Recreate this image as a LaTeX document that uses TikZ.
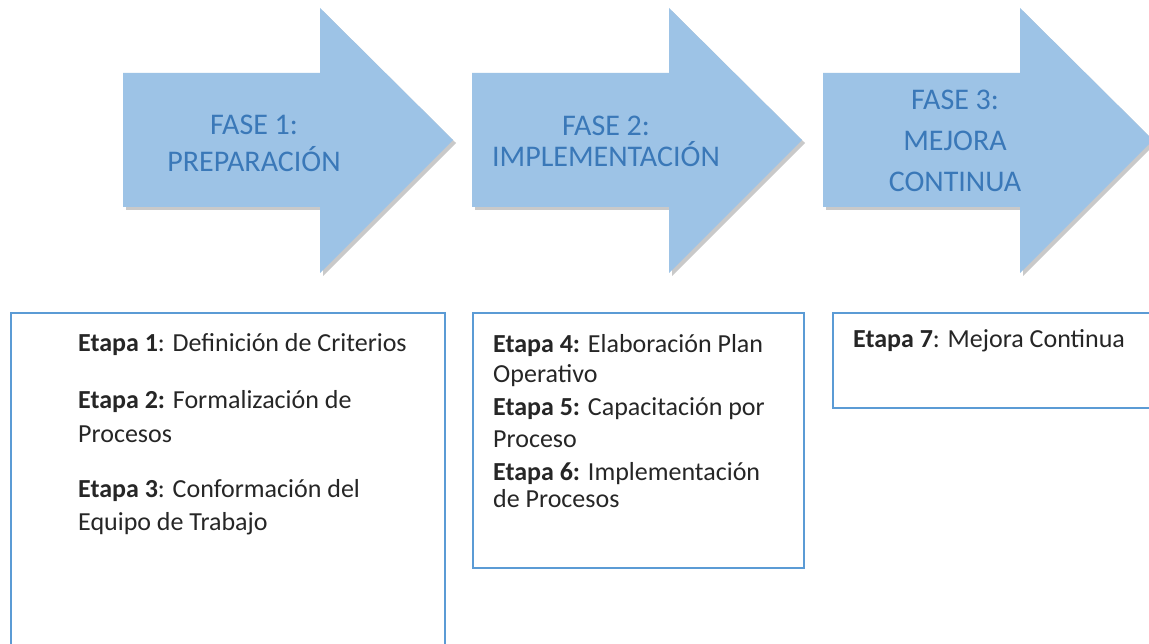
\documentclass[tikz,border=0pt]{standalone}
\usepackage{fontspec}
\setmainfont{Carlito}
\usetikzlibrary{shadows}
\definecolor{flechaazul}{HTML}{9DC3E6}
\definecolor{fasetexto}{HTML}{3A78B8}
\definecolor{bordecaja}{HTML}{5B9BD5}
\definecolor{etapatexto}{HTML}{262626}
\tikzset{
 flecha/.style={fill=flechaazul, draw=none, drop shadow={opacity=.35, shadow xshift=3pt, shadow yshift=-3pt, fill=black!60}},
 fasetxt/.style={text=fasetexto, font=\fontsize{30}{38}\selectfont, align=center, anchor=base, inner sep=0},
 caja/.style={draw=bordecaja, line width=1.6pt},
 etapatxt/.style={text=etapatexto, font=\fontsize{26}{33}\selectfont, align=left, anchor=base west, inner sep=0}
}

\begin{document}
\begin{tikzpicture}[x=1pt,y=-1pt]
\clip (0,0) rectangle (1149,644);
\useasboundingbox (0,0) rectangle (1149,644);
\fill[white] (0,0) rectangle (1149,644);
% flechas de las fases
\foreach \x in {123,472,823} {
 \draw[flecha] (\x,73) --++(197,0) --++(0,-65) --++(133,132) --++(-133,133) --++(0,-66) --++(-197,0) -- cycle;
}
% base = ultima linea
\node[fasetxt, font=\fontsize{30}{37}\selectfont] (fase1) at (254,172) {FASE 1:\\PREPARACIÓN};
\node[fasetxt, font=\fontsize{30}{31}\selectfont] (fase2) at (606,167) {FASE 2:\\IMPLEMENTACIÓN};
\node[fasetxt, font=\fontsize{30}{41}\selectfont] (fase3) at (955,192) {FASE 3:\\MEJORA\\CONTINUA};
% cajas de etapas
\draw[caja] (11,313) rectangle (445,670);
\draw[caja] (473,313) rectangle (804,568);
\draw[caja] (833,313) rectangle (1170,408);
\node[etapatxt] (etapa1) at (78,352) {\textbf{Etapa 1}: Definición de Criterios};
\node[etapatxt, font=\fontsize{26}{34}\selectfont] (etapa2) at (78,442) {\textbf{Etapa 2:} Formalización de\\Procesos};
\node[etapatxt] (etapa3) at (78,530) {\textbf{Etapa 3}: Conformación del\\Equipo de Trabajo};
\node[etapatxt, font=\fontsize{26}{30}\selectfont] (etapa4) at (493,382) {\textbf{Etapa 4:} Elaboración Plan\\Operativo};
\node[etapatxt, font=\fontsize{26}{32}\selectfont] (etapa5) at (493,447) {\textbf{Etapa 5:} Capacitación por\\Proceso};
\node[etapatxt, font=\fontsize{26}{27}\selectfont] (etapa6) at (493,507) {\textbf{Etapa 6:} Implementación\\de Procesos};
\node[etapatxt] (etapa7) at (853,348) {\textbf{Etapa 7}: Mejora Continua};
\end{tikzpicture}
\end{document}
